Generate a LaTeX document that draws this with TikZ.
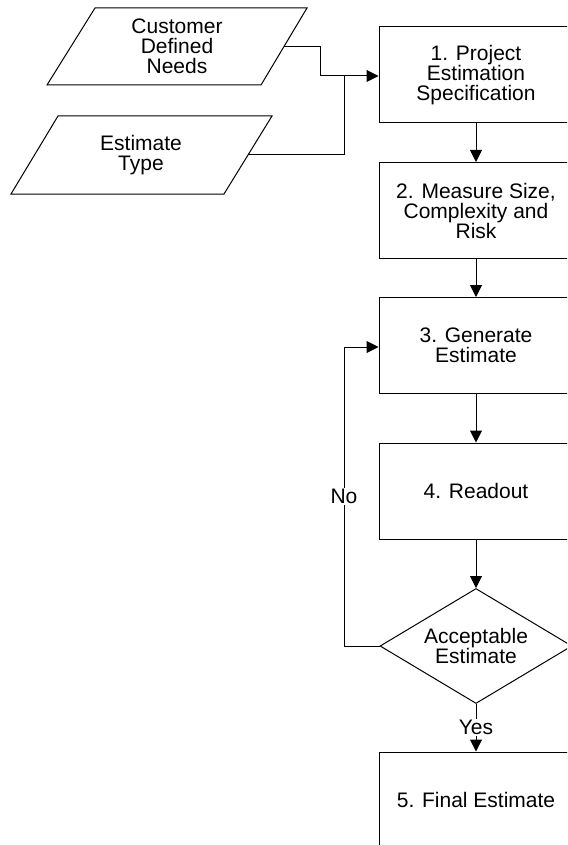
\documentclass[tikz,border=0pt]{standalone}
\usepackage{fontspec}
\setmainfont{Liberation Sans}
\usetikzlibrary{shapes.geometric,arrows.meta}
\begin{document}
\begin{tikzpicture}[x=1pt,y=-1pt,
  every node/.style={font=\fontsize{21}{20}\selectfont, align=center},
  line/.style={draw=black, line width=1pt},
  arr/.style={line, -{Triangle[length=12pt,width=12pt]}},
  procbox/.style={draw=black, line width=1pt, rectangle, minimum width=194pt, minimum height=96pt, inner sep=0pt},
  decision/.style={draw=black, line width=1pt, diamond, aspect=1.67, minimum width=192pt, minimum height=115pt, inner sep=0pt},
  lbl/.style={fill=white, inner sep=1pt}
]
\useasboundingbox (0,0) rectangle (567,845);
\clip (0,0) rectangle (567,845);

% input parallelograms
\draw[line] (95,8) -- (307,8) -- (261,85) -- (47,85) -- cycle;
\node (cdn) at (177,46.5) {Customer\\Defined\\Needs};
\coordinate (cdnR) at (284,46.5);
\draw[line] (58,116) -- (272,116) -- (224,194) -- (11,194) -- cycle;
\node (et) at (141,155) {Estimate\\Type};
\coordinate (etR) at (248,155);

% process boxes
\node[procbox] (b1) at (476,75) {1. Project\\Estimation\\Specification};
\node[procbox] (b2) at (476,210.5) {2. Measure Size,\\Complexity and\\Risk};
\node[procbox] (b3) at (476,345.5) {3. Generate\\Estimate};
\node[procbox] (b4) at (476,491) {4. Readout};
\node[decision] (d) at (476,646) {Acceptable\\Estimate};
\node[procbox] (b5) at (476,800) {5. Final Estimate};

% connectors
\coordinate (j1) at (320,46.5);
\coordinate (j2) at (320,76);
\coordinate (j3) at (344,155);
\coordinate (j4) at (344,76);
\draw[line] (cdnR) -- (j1) -- (j2) -- (j4);
\draw[line] (etR) -- (j3) -- (j4);
\draw[arr] (j4) -- (b1.west |- j4);

\draw[arr] (b1) -- (b2);
\draw[arr] (b2) -- (b3);
\draw[arr] (b3) -- (b4);
\draw[arr] (b4) -- (d);
\draw[arr] (d) -- node[lbl, pos=0.5] (yes) {Yes} (b5);

\coordinate (l1) at (344,646);
\coordinate (l2) at (344,347);
\draw[arr] (d.west) -- (l1) -- node[lbl, pos=0.5] (no) {No} (l2) -- (b3.west |- l2);
\end{tikzpicture}
\end{document}
